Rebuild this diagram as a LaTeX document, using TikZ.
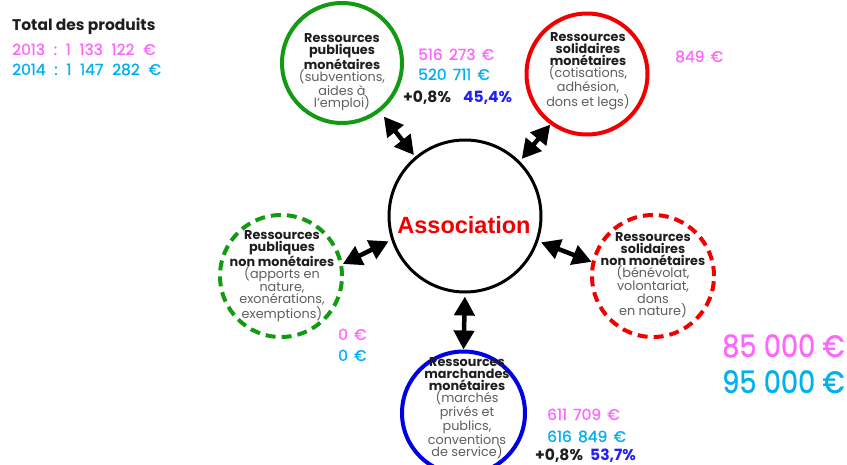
\documentclass[tikz,border=0pt]{standalone}
\usepackage{fontspec}
\setmainfont{Poppins}
\newfontfamily\numfont{Poppins}[FakeBold=1]
\newfontfamily\assocfont{Liberation Sans}
\usetikzlibrary{arrows.meta}
\newcommand\ngap{\hspace{6.2pt}}
\newcommand\tgap{\hspace{8.8pt}}
\definecolor{pk}{HTML}{FF66FF}
\definecolor{cy}{HTML}{00B0F0}
\definecolor{bl}{HTML}{2020F0}
\definecolor{gr}{HTML}{139A13}
\definecolor{rd}{HTML}{F00000}
\definecolor{bc}{HTML}{0000E6}
\definecolor{tx}{HTML}{1E1E1E}
\definecolor{gy}{HTML}{5E5E5E}
\begin{document}
\begin{tikzpicture}[x=1pt,y=-1pt,
  ring/.style={circle,draw,line width=4pt,minimum size=#1,inner sep=0pt},
  dashring/.style={dash pattern=on 10pt off 6pt},
  ctext/.style={align=center,text=tx,inner sep=0pt,font=\fontsize{12.8}{12.1}\selectfont},
  num/.style={anchor=base west,inner sep=0pt,font=\numfont\fontsize{15.5}{16}\selectfont},
  numb/.style={anchor=base west,inner sep=0pt,font=\bfseries\fontsize{15.5}{16}\selectfont},
  big/.style={anchor=base west,inner sep=0pt,font=\numfont\fontsize{31}{32}\selectfont},
  arr/.style={line width=4.5pt,{Triangle[length=19pt,width=20pt]}-{Triangle[length=19pt,width=20pt]}}
]
\useasboundingbox (0,0) rectangle (847,464);
\clip (0,0) rectangle (847,464);
% circles
\node[ring=152,line width=3pt,draw=black] (assoc) at (465,216) {};
\node[ring=120,draw=gr] (pubm) at (342,63) {};
\node[ring=121,draw=rd] (solm) at (587,74) {};
\node[ring=122,draw=gr,dashring] (pubn) at (281,276) {};
\node[ring=122,draw=rd,dashring] (soln) at (653,276) {};
\node[ring=123,draw=bc] (march) at (463.5,413) {};
% circle texts
\node[font=\assocfont\bfseries\fontsize{23.5}{24}\selectfont,text=rd,anchor=base,inner sep=0pt] (assocT) at (464,233) {Association};
\node[ctext] (pubmT) at (342,72) {\textbf{Ressources}\\\textbf{publiques}\\\textbf{monétaires}\\\textcolor{gy}{(subventions,}\\\textcolor{gy}{aides à}\\\textcolor{gy}{l'emploi)}};
\node[ctext] (solmT) at (588,71) {\textbf{Ressources}\\\textbf{solidaires}\\\textbf{monétaires}\\\textcolor{gy}{(cotisations,}\\\textcolor{gy}{adhésion,}\\\textcolor{gy}{dons et legs)}};
\node[ctext] (pubnT) at (282,276) {\textbf{Ressources}\\\textbf{publiques}\\\textbf{non monétaires}\\\textcolor{gy}{(apports en}\\\textcolor{gy}{nature,}\\\textcolor{gy}{exonérations,}\\\textcolor{gy}{exemptions)}};
\node[ctext] (solnT) at (653,275) {\textbf{Ressources}\\\textbf{solidaires}\\\textbf{non monétaires}\\\textcolor{gy}{(bénévolat,}\\\textcolor{gy}{volontariat,}\\\textcolor{gy}{dons}\\\textcolor{gy}{en nature)}};
\node[ctext] (marchT) at (467,408) {\textbf{Ressources}\\\textbf{marchandes}\\\textbf{monétaires}\\\textcolor{gy}{(marchés}\\\textcolor{gy}{privés et}\\\textcolor{gy}{publics,}\\\textcolor{gy}{conventions}\\\textcolor{gy}{de service)}};
% arrows
\draw[arr,shorten >=6pt,shorten <=2pt] (assoc.130.4) -- (pubm.-52.8);
\draw[arr,shorten <=3pt] (assoc.45.5) -- (solm.234.5);
\draw[arr,shorten <=3pt] (assoc.198.7) -- (pubn.11.8);
\draw[arr,shorten <=3pt] (assoc.-19) -- (soln.167);
\draw[arr,shorten <=3pt] (assoc.-90) -- (march.90);
% totals
\node[numb,text=tx] (tot) at (12,30) {Total des produits};
\node[num,text=pk] (t13) at (12,55) {2013\tgap:\tgap1\tgap133\tgap122\tgap€};
\node[num,text=cy] (t14) at (12,75) {2014\tgap:\tgap1\tgap147\tgap282\tgap€};
% figures
\node[num,text=pk] (a1) at (418,60) {516\ngap273\ngap€};
\node[num,text=cy] (a2) at (418,80) {520\ngap711\ngap€};
\node[numb,text=tx] (a3) at (403,102) {+0,8\%};
\node[numb,text=bl] (a4) at (463,102) {45,4\%};
\node[num,text=pk] (b1) at (675,62) {849\ngap€};
\node[num,text=pk] (c1) at (338,340) {0\ngap€};
\node[num,text=cy] (c2) at (338,361) {0\ngap€};
\node[num,text=pk] (d1) at (547,420) {611\ngap709\ngap€};
\node[num,text=cy] (d2) at (547,442) {616\ngap849\ngap€};
\node[numb,text=tx] (d3) at (535,460) {+0,8\%};
\node[numb,text=bl] (d4) at (590,460) {53,7\%};
\node[big,text=pk] (e1) at (722,357) {\scalebox{0.88}[1]{85 000 €}};
\node[big,text=cy] (e2) at (722,393) {\scalebox{0.88}[1]{95 000 €}};
\end{tikzpicture}
\end{document}
